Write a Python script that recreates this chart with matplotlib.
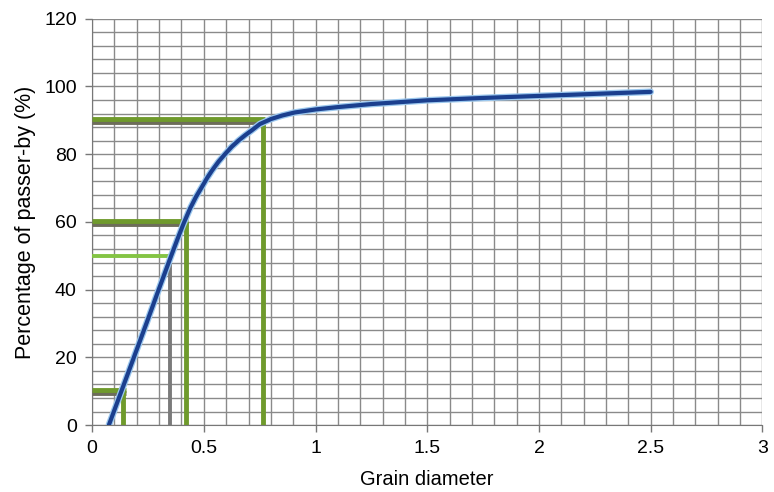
#!/usr/bin/env python3
"""Grain size distribution curve with d10/d50/d60/d90 read-offs."""
import numpy as np
import matplotlib
matplotlib.use('Agg')
import matplotlib.pyplot as plt

plt.rcParams['font.family'] = ['Liberation Sans', 'DejaVu Sans']

# passing curve
diam = [0.075, 0.131, 0.187, 0.243, 0.298, 0.354, 0.382, 0.41, 0.438, 0.465,
        0.493, 0.515, 0.537, 0.566, 0.596, 0.625, 0.655, 0.685, 0.714, 0.751,
        0.802, 0.85, 0.906, 1.0, 1.1, 1.25, 1.5, 1.75, 2.0, 2.25, 2.5]
passing = [0, 10, 20, 30, 40, 50, 54.9, 59.6, 63.9, 67.4,
           70.5, 73.0, 75.2, 77.8, 80.1, 82.2, 84.0, 85.6, 87.0, 88.9,
           90.4, 91.4, 92.3, 93.2, 93.9, 94.8, 95.9, 96.6, 97.2, 97.8, 98.4]

# characteristic diameters (d10, d50, d60, d90)
char_pct = [10, 50, 60, 90]
char_d = [0.14, 0.35, 0.42, 0.765]

x_ticks = [0, 0.5, 1, 1.5, 2, 2.5, 3]
x_labels = ['0', '0.5', '1', '1.5', '2', '2.5', '3']
y_ticks = [0, 20, 40, 60, 80, 100, 120]

OLIVE = '#6f9a2c'
LIGHT = '#84c444'
GRAY = '#7a7a7a'

fig = plt.figure(figsize=(7.74, 4.92), dpi=100)
ax = fig.add_axes([0.119, 0.136, 0.866, 0.826])

ax.set_xlim(0, 3)
ax.set_ylim(0, 120)
ax.set_xticks(np.arange(0, 3.001, 0.1), minor=True)
ax.set_yticks(np.arange(0, 120.001, 4), minor=True)
ax.set_xticks(x_ticks)
ax.set_xticklabels(x_labels)
ax.set_yticks(y_ticks)
ax.grid(which='both', color='#8a8a8a', linewidth=1.0)
ax.set_axisbelow(True)
ax.tick_params(which='major', direction='out', length=5, width=1, color='#777777',
               labelsize=14, pad=6)
ax.tick_params(which='minor', length=0)
for side in ['top', 'right']:
    ax.spines[side].set_visible(False)
for side in ['left', 'bottom']:
    ax.spines[side].set_color('#777777')

# read-off lines
for p, d in zip(char_pct, char_d):
    if p == 50:
        ax.plot([0, d], [p, p], color=LIGHT, linewidth=2.8, solid_capstyle='butt', zorder=3)
        ax.plot([d, d], [0, p], color=GRAY, linewidth=2.8, solid_capstyle='butt', zorder=3)
    else:
        ax.plot([0, d + 0.01], [p - 0.6, p - 0.6], color='#6d6d5a', linewidth=3.5,
                solid_capstyle='butt', zorder=3)
        ax.plot([0, d + 0.01], [p + 0.3, p + 0.3], color=OLIVE, linewidth=3.5,
                solid_capstyle='butt', zorder=3)
        ax.plot([d, d], [0, p], color=OLIVE, linewidth=3.5, solid_capstyle='butt', zorder=3)

ax.plot(diam, passing, color='#9cc8ee', linewidth=4.8, solid_capstyle='round',
        solid_joinstyle='round', zorder=4)
ax.plot(diam, passing, color='#1b3f8e', linewidth=3.0, solid_capstyle='round',
        solid_joinstyle='round', zorder=5)

ax.set_xlabel('Grain diameter', fontsize=14.5, labelpad=9)
ax.set_ylabel('Percentage of passer-by (%)', fontsize=15.5, labelpad=6)

fig.savefig('out.png', dpi=100)
plt.close(fig)
